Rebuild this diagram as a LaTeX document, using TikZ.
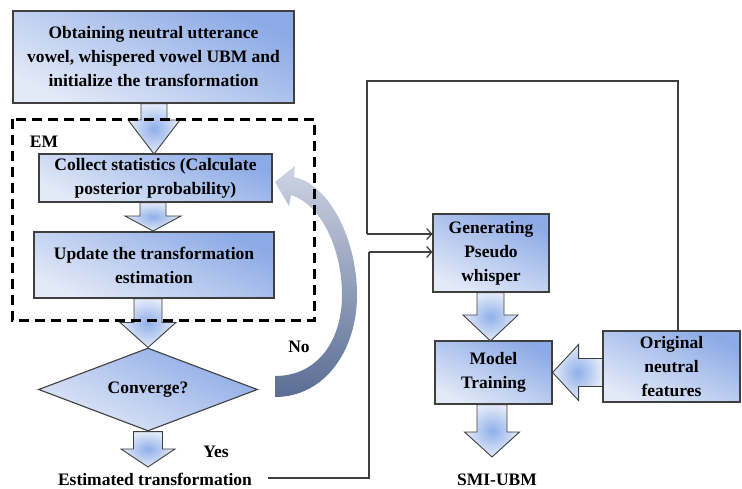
\documentclass[tikz,border=0pt]{standalone}
\usepackage{fontspec}
\setmainfont{Liberation Serif}
\usetikzlibrary{shapes.geometric,arrows.meta,calc}

\definecolor{boxlight}{HTML}{E2E9F7}
\definecolor{boxdark}{HTML}{8CAAE6}
\definecolor{arrlight}{HTML}{E4EBF8}
\definecolor{arrdark}{HTML}{8FAFEA}
\definecolor{edge}{HTML}{3F3F3F}
\definecolor{loopa}{HTML}{CDD4E3}
\definecolor{loopb}{HTML}{5A6D93}

\tikzset{
  stage/.style={draw=edge, line width=1.1pt, bottom color=boxlight, top color=boxdark,
    shading angle=-25, align=center, font=\fontsize{17.5}{24}\selectfont\bfseries,
    inner sep=0pt},
  decision/.style={stage, diamond, aspect=2.64},
  blockarrow/.style={draw=edge, line width=0.9pt, inner color=arrdark, outer color=arrlight},
  link/.style={draw=edge, line width=1.2pt},
  linkarrow/.style={link, -{Straight Barb[length=5pt,width=11pt,line width=1.2pt]}},
  label/.style={font=\fontsize{17.5}{24}\selectfont\bfseries, inner sep=0pt},
  emframe/.style={draw=black, line width=3pt, dash pattern=on 10pt off 6pt}
}

% downward block arrow: source anchor, tip point, shaft half width, head half width, head length
\newcommand{\dnblock}[5]{%
  \path[blockarrow] let \p1=#1, \p2=#2 in
    (\x2-#3pt,\y1) -- (\x2+#3pt,\y1) -- (\x2+#3pt,\y2+#5pt) -- (\x2+#4pt,\y2+#5pt)
    -- (\x2,\y2) -- (\x2-#4pt,\y2+#5pt) -- (\x2-#3pt,\y2+#5pt) -- cycle;}
% leftward block arrow, same arguments
\newcommand{\lfblock}[5]{%
  \path[blockarrow] let \p1=#1, \p2=#2 in
    (\x1,\y2+#3pt) -- (\x1,\y2-#3pt) -- (\x2+#5pt,\y2-#3pt) -- (\x2+#5pt,\y2-#4pt)
    -- (\x2,\y2) -- (\x2+#5pt,\y2+#4pt) -- (\x2+#5pt,\y2+#3pt) -- cycle;}

\begin{document}
\begin{tikzpicture}[x=1pt,y=-1pt]
\useasboundingbox (0,0) rectangle (742,488);

% left column: EM estimation of the transformation
\node[stage, minimum width=281pt, minimum height=92pt] (init) at (153.5,57)
  {Obtaining neutral utterance\\vowel, whispered vowel UBM and\\initialize the transformation};
\node[stage, minimum width=233pt, minimum height=48pt] (collect) at (155.5,178)
  {Collect statistics (Calculate\\posterior probability)};
\node[stage, minimum width=240pt, minimum height=66pt] (update) at (154,265)
  {Update the transformation\\estimation};
\node[decision, minimum width=219pt, minimum height=83pt] (conv) at (148,389.5) {Converge?};
\node[label, anchor=base] (est) at (155,485.5) {Estimated transformation};
\node[label] (em) at (44,142) {EM};
\node[label] (no) at (299,347) {No};
\node[label] (yes) at (216,452) {Yes};

% right column: pseudo-whisper model training
\node[stage, minimum width=116pt, minimum height=78pt] (gen) at (491,253)
  {Generating\\Pseudo\\whisper};
\node[stage, minimum width=117pt, minimum height=63pt] (model) at (493.5,372.5)
  {Model\\Training};
\node[stage, minimum width=137pt, minimum height=71pt] (orig) at (671.5,366.5)
  {Original\\neutral\\features};
\node[label, anchor=base] (smi) at (497,485) {SMI-UBM};

% block arrows between the stages
\coordinate (esttip) at (148,467);
\coordinate (smitip) at (492,457);
\dnblock{(init.south)}{(154,154)}{13}{26}{34}
\dnblock{(collect.south)}{(153,231)}{13}{28}{15}
\dnblock{(update.south)}{(conv.north)}{14}{28}{25}
\dnblock{(conv.south)}{(esttip)}{14.5}{27}{18}
\dnblock{(gen.south)}{(490.5,341)}{13.5}{27.5}{26}
\dnblock{(model.south)}{(smitip)}{15}{27.5}{25}
\lfblock{(orig.west)}{(model.east)}{14}{28}{26}

% curved "No" arrow back to the statistics step
\path[top color=loopa, bottom color=loopb]
  (294,177) .. controls (330,185) and (357,240) .. (357,295)
  .. controls (357,350) and (325,397) .. (275,397)
  -- (275,376)
  .. controls (318,376) and (342,340) .. (342,295)
  .. controls (342,250) and (322,205) .. (291,195)
  -- (289,206) -- (275,182) -- (295,166) -- cycle;

% line connectors into the pseudo-whisper generator
\coordinate (estend) at (268,478);
\coordinate (j1) at (369,252);
\coordinate (j2) at (367,234);
\coordinate (oj) at (678,81);
\draw[link] (estend) -| (j1);
\draw[linkarrow] (j1) -- (j1 -| gen.west);
\draw[link] (oj |- orig.north) -- (oj) -| (j2);
\draw[linkarrow] (j2) -- (j2 -| gen.west);

% EM frame
\draw[emframe] (12,119) rectangle (314,320);
\end{tikzpicture}
\end{document}
